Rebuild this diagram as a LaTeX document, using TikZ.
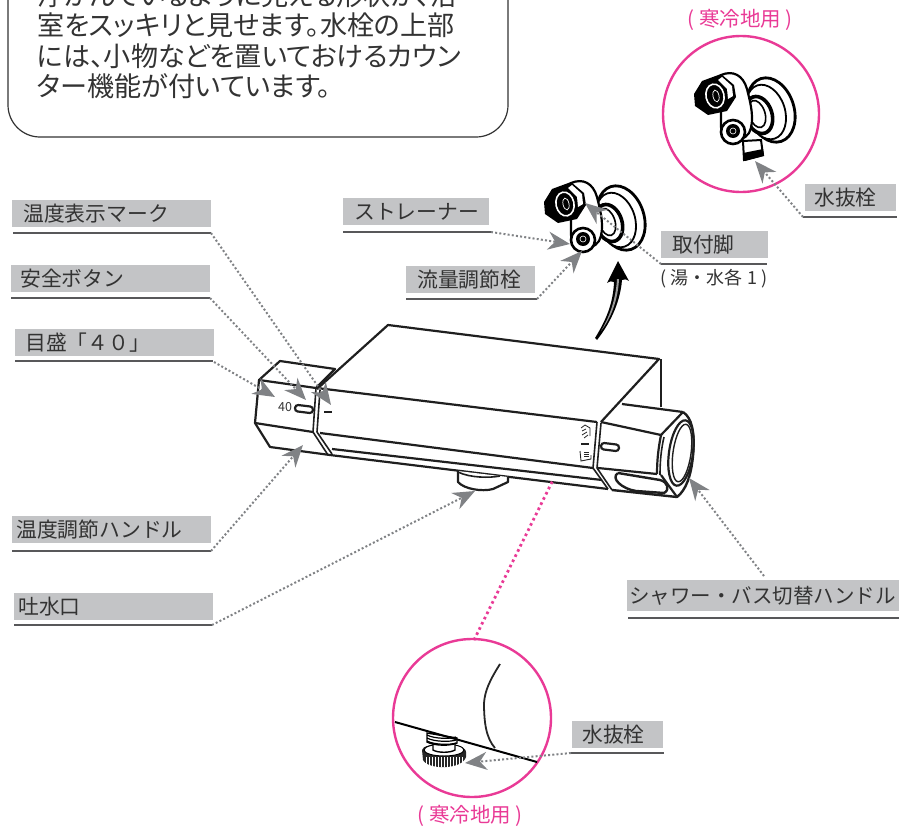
\documentclass[tikz,border=0pt]{standalone}
\usepackage{fontspec}
\setmainfont{Noto Sans CJK JP}
\newfontfamily\notefont[RawFeature=+palt]{Noto Sans CJK JP}
\usetikzlibrary{arrows.meta}
\definecolor{lblgray}{HTML}{C3C4C6}
\definecolor{lblline}{HTML}{58585A}
\definecolor{leadgray}{HTML}{808285}
\definecolor{txtdark}{HTML}{333333}
\definecolor{pinkcol}{HTML}{E93A96}
\tikzset{
    lbl/.style={fill=lblgray, text=txtdark, minimum height=27pt, inner sep=0pt, anchor=north west, align=left, font=\fontsize{20.8}{20.8}\selectfont},
    lblrule/.style={lblline, line width=1.6pt},
    leader/.style={leadgray, line width=2pt, dash pattern=on 2pt off 2.2pt, -{Stealth[length=22pt,width=18pt,inset=7pt,leadgray]}},
    faucet/.style={black!88, line width=2.2pt, line join=round},
    slot/.style={draw=black!88, line width=2.2pt, rounded corners=3pt, minimum width=18pt, minimum height=6.5pt, inner sep=0pt, rotate=-7},
    ring/.style={pinkcol, line width=2.4pt},
    pinknote/.style={text=pinkcol, font=\fontsize{20.5}{20.5}\selectfont},
    fitting/.pic={
        % flange
        \draw[black, fill=white, line width=2.8pt] (58,13) ellipse[x radius=23, y radius=33, rotate=18];
        \draw[black, fill=white, line width=1.8pt] (53,15) ellipse[x radius=19, y radius=28, rotate=18];
        \draw[black, fill=white, line width=3.6pt] (46,18) ellipse[x radius=13, y radius=19, rotate=18];
        \draw[black, line width=1.6pt] (44,17) ellipse[x radius=8, y radius=14, rotate=18];
        % strap
        \draw[black, fill=white, line width=2.2pt] (8,-22) .. controls (20,-27) and (30,-22) .. (34,-8) .. controls (38,8) and (42,24) .. (36,36) .. controls (28,48) and (8,44) .. (8,30) -- cycle;
        % nut
        \fill[black] (-19,-3) -- (-11,-16) -- (8,-23) -- (21,-12) -- (23,0) -- (14,14) -- (-5,18) -- (-18,9) -- cycle;
        \fill[white] (9,-20) -- (19,-11) -- (20,-1) -- (15,2) -- (14,-8) -- (5,-17) -- cycle;
        \draw[white, line width=1.6pt] (2,-1) ellipse[x radius=9, y radius=12, rotate=12];
        \fill[black] (2,-1) ellipse[x radius=5, y radius=8, rotate=12];
        \draw[white, line width=0.7pt] (3,-1) ellipse[x radius=3, y radius=6, rotate=12];
        % small round
        \draw[black, fill=white, line width=2.6pt] (20,35) circle[radius=12];
        \fill[black] (20,34) circle[radius=7];
        \draw[white, line width=0.6pt] (20,34) circle[radius=3];
    }
}
\begin{document}
\begin{tikzpicture}[x=1pt,y=-1pt]
\useasboundingbox (0,0) rectangle (899,827);
\clip (0,0) rectangle (899,827);

% top note
\draw[black!80, line width=1.2pt] (8,-40) -- (8,105) arc[start angle=180, end angle=90, radius=32] -- (476,137) arc[start angle=90, end angle=0, radius=32] -- (508,-40);
\node[anchor=north west, inner sep=0pt, align=left, text=txtdark, font=\notefont\fontsize{27.1}{30.5}\selectfont] (note) at (37,-18) {浮かんでいるように見える形状が、浴\\室をスッキリと見せます。水栓の上部\\には、小物などを置いておけるカウン\\ター機能が付いています。};

% handle and body
\draw[faucet] (317,389) -- (388,325) -- (659,359) -- (601,422);
\draw[faucet] (661,359) -- (661,407);
\draw[faucet] (317,388) -- (597,422);
\draw[faucet] (320,433) -- (593,468);
\draw[faucet] (332,449) -- (602,480);
\draw[faucet] (330,455) -- (608,489);

% left handle
\draw[faucet] (259,380) -- (280,361) -- (335,369) -- (316,388) -- cycle;
\draw[faucet] (259,380) -- (255,423) -- (270,447) -- (330,455);
\draw[faucet] (255,423) -- (313,432);
\draw[faucet, line width=1.6pt] (316,388) -- (313,432) -- (328,455);
\draw[faucet, line width=1.6pt] (320,390) -- (317,432) -- (332,454);
\node[slot] (slotleft) at (304,409) {};
\node[inner sep=0pt, text=txtdark, font=\fontsize{12.5}{12.5}\selectfont] (mark40) at (285,407) {40};
\draw[faucet] (324,412) -- (332,412);

% foot
\draw[faucet, fill=white] (458,471) -- (458,482) .. controls (464,489) and (482,492) .. (493,489) -- (508,482) -- (508,477);
\draw[faucet, line width=1.6pt] (458,472) .. controls (470,478) and (490,478) .. (500,476);

% right handle
\draw[faucet] (622,404) -- (683,412);
\draw[faucet] (601,422) -- (661,435) -- (683,412);
\draw[faucet] (598,468) -- (657,474);
\draw[faucet] (661,435) .. controls (658,450) and (657,462) .. (657,474);
\draw[faucet, line width=1.6pt] (664,437) .. controls (661,450) and (660,462) .. (660,475);
\draw[faucet, line width=1.6pt] (597,422) -- (593,468) -- (608,489);
\draw[faucet, line width=1.6pt] (601,423) -- (597,468) -- (612,490);
\draw[faucet, line width=2.4pt] (683,412) .. controls (692,418) and (695,432) .. (693,456) .. controls (691,476) and (686,490) .. (677,497) -- (612,490);
\draw[faucet] (681,453) ellipse[x radius=12, y radius=33, rotate=-8];
\draw[faucet, line width=1.4pt] (682,453) ellipse[x radius=9, y radius=29, rotate=-8];
\draw[faucet] (661,475) .. controls (666,482) and (672,490) .. (677,497);
\draw[faucet, line width=2.4pt] (618,473) -- (660,480) .. controls (668,482) and (670,490) .. (664,493) -- (636,491) .. controls (622,489) and (610,478) .. (618,473);
\node[slot] (slotright) at (610,447) {};
\draw[faucet] (581,444) -- (589,444);
% shower and bath marks
\draw[black!85, line width=0.8pt] (590,436) -- (590,428) -- (585,425) -- (581,428);
\draw[black!85, line width=0.8pt] (586,429) -- (582,431) (587,432) -- (582,435) (588,435) -- (584,438);
\draw[black!85, line width=0.9pt] (580,451) -- (581,461) -- (591,459) -- (591,455);
\draw[black!85, line width=0.8pt] (584,452) -- (589,452) (584,454) -- (589,454) (584,456) -- (589,456);

% curved arrow
\fill[black] (595,338) .. controls (606,320) and (613,304) .. (614,282) .. controls (612,281) and (610,281) .. (607,283) -- (618,261) -- (629,281) .. controls (626,279) and (624,279) .. (622,280) .. controls (620,305) and (608,326) .. (597,340) -- cycle;
\fill[black!40] (601,331) .. controls (610,316) and (616,298) .. (617,279) -- (619,279) .. controls (618,300) and (611,318) .. (601,331) -- cycle;

% fitting
\pic at (563,205) {fitting};

% magnified top
\draw[ring] (741,114) circle[radius=78];
\node[pinknote] (capt) at (740,20) {( 寒冷地用 )};
\draw[black, fill=white, line width=2pt] (743,141) -- (761,140) -- (763,155) -- (744,160) -- cycle;
\fill[black] (743,153) -- (763,149) -- (764,156) -- (745,161) -- cycle;
\pic at (713,97) {fitting};

% magnified foot
\draw[ring] (472,718) circle[radius=79];
\node[pinknote] (capb) at (470,816) {( 寒冷地用 )};
\fill[black!85] (422,750) .. controls (422,742) and (466,742) .. (466,752) -- (466,757) .. controls (462,770) and (428,770) .. (423,760) -- cycle;
\draw[black, fill=white, line width=1pt] (444,750) ellipse[x radius=20, y radius=6];
\foreach \xx in {426,429,...,462} {
    \draw[white, line width=0.7pt] (\xx,757) -- (\xx,767);
}
\draw[black, line width=1.4pt, fill=white] (433,742) -- (433,750) .. controls (438,753) and (450,753) .. (455,750) -- (455,742);
\draw[black, line width=1.4pt, fill=white] (427,733) -- (427,742) .. controls (435,746) and (450,746) .. (457,743) -- (457,738) -- cycle;
\foreach \yy in {735,738,741} {
    \draw[black, line width=1.2pt] (427,\yy) .. controls (435,\yy+4) and (450,\yy+4) .. (456,\yy+2);
}
\draw[black, line width=2pt] (395,722) -- (537,762);
\draw[black!85, line width=1.8pt] (500,664) .. controls (490,680) and (485,690) .. (484,703) .. controls (484,722) and (486,738) .. (495,748);
\draw[pinkcol, line width=2.8pt, dash pattern=on 2.6pt off 3.2pt] (474,640) -- (553,480);

% labels
\node[lbl, minimum width=199pt, text width=177pt] (tempmark) at (12,200) {温度表示マーク};
\node[lbl, minimum width=199pt, text width=181pt] (safety) at (11,265) {安全ボタン};
\node[lbl, minimum width=199pt, text width=179pt] (scale) at (15,329) {目盛「４０」};
\node[lbl, minimum width=199pt, text width=191pt] (temphandle) at (12,516) {温度調節ハンドル};
\node[lbl, minimum width=199pt, text width=191pt] (spout) at (14,593) {吐水口};
\node[lbl, minimum width=146pt, text width=124pt] (strainer) at (343,198) {ストレーナー};
\node[lbl, minimum width=129pt, text width=107pt] (flowvalve) at (406,266) {流量調節栓};
\node[lbl, minimum width=107pt, text width=85pt] (mount) at (661,231) {取付脚};
\node[anchor=center, inner sep=0pt, text=txtdark, font=\fontsize{18}{18}\selectfont] (mountnote) at (714,279) {( 湯・水各 1 )};
\node[lbl, minimum width=272pt, minimum height=31pt, text width=268pt] (switch) at (627,580) {\fontsize{20.5}{20.5}\selectfont シャワー・バス切替ハンドル};
\node[lbl, minimum width=91pt, text width=73pt] (drainup) at (805,184) {水抜栓};
\node[lbl, minimum width=91pt, text width=71pt] (draindown) at (572,721) {水抜栓};

% label rules
\coordinate (tempmarkend) at (211,233);
\coordinate (safetyend) at (210,298);
\coordinate (scaleend) at (214,362);
\coordinate (temphandleend) at (211,551);
\coordinate (spoutend) at (212,625);
\coordinate (strainerend) at (491,232);
\coordinate (flowvalveend) at (537,299);
\coordinate (mountend) at (661,264);
\coordinate (switchend) at (764,576);
\coordinate (drainupend) at (803,217);
\coordinate (draindownend) at (571,753);
\draw[lblrule] (13,233) -- (tempmarkend);
\draw[lblrule] (11,298) -- (safetyend);
\draw[lblrule] (15,361) -- (213,361);
\draw[lblrule] (12,551) -- (temphandleend);
\draw[lblrule] (14,625) -- (spoutend);
\draw[lblrule] (343,232) -- (strainerend);
\draw[lblrule] (406,299) -- (flowvalveend);
\draw[lblrule] (mountend) -- (767,264);
\draw[lblrule] (628,618) -- (899,618);
\draw[lblrule] (drainupend) -- (897,217);
\draw[lblrule] (draindownend) -- (664,753);

% leaders
\coordinate (tempmarktip) at (331,405);
\coordinate (safetytip) at (306,400);
\coordinate (scaletip) at (275,397);
\coordinate (temphandletip) at (303,445);
\coordinate (spouttip) at (475,491);
\coordinate (strainertip) at (570,244);
\coordinate (flowvalvetip) at (582,251);
\coordinate (mounttip) at (585,203);
\coordinate (switchtip) at (689,478);
\coordinate (drainuptip) at (755,161);
\coordinate (draindowntip) at (465,763);
\foreach \from/\tip in {tempmarkend/tempmarktip, safetyend/safetytip, scaleend/scaletip, temphandleend/temphandletip, spoutend/spouttip, strainerend/strainertip, flowvalveend/flowvalvetip, mountend/mounttip, switchend/switchtip, drainupend/drainuptip, draindownend/draindowntip} {
    \draw[leader] (\from) -- (\tip);
}
\end{tikzpicture}
\end{document}
